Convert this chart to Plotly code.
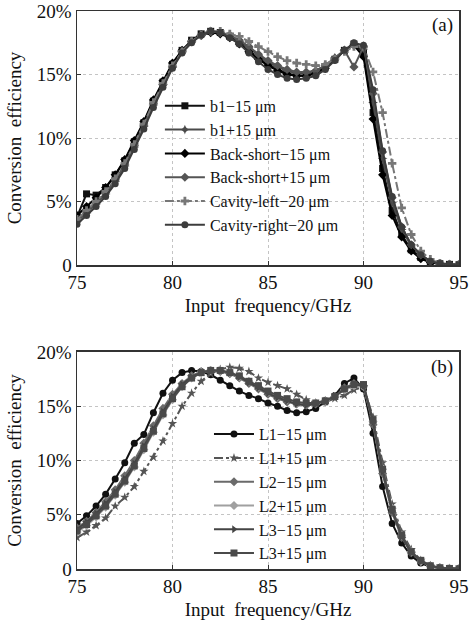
import plotly.graph_objects as go

# frequency grid (GHz)
freq = [75 + 0.5 * i for i in range(41)]

# ---------------- panel (a) ----------------
b1_minus15 = [3.8, 5.6, 5.5, 6.1, 7.1, 8.2, 9.7, 11.2, 12.9, 14.4, 15.8, 16.9, 17.7, 18.2, 18.4, 18.3,
              18.0, 17.5, 16.9, 16.3, 15.8, 15.4, 15.1, 14.9, 14.9, 15.1, 15.6, 16.2, 16.9, 17.4, 16.7,
              12.0, 7.6, 4.3, 2.4, 1.2, 0.6, 0.25, 0.1, 0.05, 0.02]
b1_plus15 = [3.4, 4.1, 4.8, 5.6, 6.6, 7.8, 9.3, 10.9, 12.6, 14.2, 15.6, 16.8, 17.6, 18.1, 18.4, 18.3,
             18.0, 17.6, 17.1, 16.5, 16.0, 15.6, 15.3, 15.1, 15.1, 15.3, 15.7, 16.3, 16.9, 17.4, 17.0,
             12.8, 8.4, 4.9, 2.8, 1.5, 0.7, 0.3, 0.1, 0.05, 0.02]
bs_minus15 = [3.9, 4.6, 5.3, 6.1, 7.1, 8.3, 9.8, 11.3, 13.0, 14.5, 15.9, 16.9, 17.6, 18.1, 18.3, 18.2,
              17.9, 17.4, 16.8, 16.2, 15.7, 15.3, 15.0, 14.9, 14.9, 15.1, 15.5, 16.2, 16.9, 17.3, 16.4,
              11.5, 7.1, 3.9, 2.2, 1.1, 0.5, 0.2, 0.08, 0.03, 0.01]
bs_plus15 = [3.5, 4.2, 4.9, 5.7, 6.7, 7.9, 9.4, 11.0, 12.7, 14.2, 15.6, 16.8, 17.6, 18.1, 18.4, 18.3,
             18.1, 17.7, 17.2, 16.6, 16.1, 15.7, 15.4, 15.2, 15.2, 15.3, 15.7, 16.3, 16.9, 15.6, 17.2,
             13.5, 8.9, 5.3, 3.0, 1.6, 0.8, 0.3, 0.12, 0.05, 0.02]
cav_left20 = [3.6, 4.3, 5.0, 5.8, 6.8, 8.0, 9.5, 11.1, 12.8, 14.3, 15.7, 16.8, 17.6, 18.1, 18.4, 18.4,
              18.2, 18.0, 17.6, 17.2, 16.8, 16.4, 16.1, 15.9, 15.8, 15.7, 15.8, 16.2, 16.8, 17.2, 17.2,
              15.2, 12.0, 8.0, 4.5, 2.4, 1.1, 0.45, 0.15, 0.05, 0.02]
cav_right20 = [3.2, 3.9, 4.6, 5.4, 6.4, 7.6, 9.1, 10.7, 12.4, 14.0, 15.5, 16.7, 17.5, 18.1, 18.4, 18.3,
               17.9, 17.4, 16.7, 16.0, 15.4, 15.0, 14.7, 14.6, 14.7, 14.9, 15.4, 16.1, 16.9, 17.5, 17.3,
               13.8, 9.0, 5.4, 3.0, 1.6, 0.8, 0.3, 0.12, 0.05, 0.02]

# ---------------- panel (b) ----------------
L1_minus15 = [4.2, 4.9, 5.8, 6.9, 8.3, 9.8, 11.6, 12.4, 14.4, 16.2, 17.4, 18.1, 18.3, 18.2, 17.9, 17.4,
              16.9, 16.4, 16.0, 15.7, 15.3, 15.0, 14.6, 14.4, 14.5, 14.8, 15.4, 16.0, 17.1, 17.6, 16.6,
              12.5, 7.6, 4.2, 2.4, 1.2, 0.55, 0.2, 0.08, 0.03, 0.01]
L1_plus15 = [2.9, 3.4, 4.0, 4.7, 5.8, 6.6, 7.6, 9.0, 10.3, 11.8, 13.4, 15.0, 16.2, 17.3, 18.0, 18.4,
             18.6, 18.5, 18.2, 17.6, 17.2, 16.9, 16.6, 16.1, 15.6, 15.3, 15.4, 15.7, 16.0, 16.5, 16.8,
             14.0, 9.8, 6.0, 3.4, 1.8, 0.8, 0.3, 0.1, 0.05, 0.02]
L2_minus15 = [3.8, 4.4, 5.2, 6.2, 7.3, 8.6, 10.0, 11.6, 13.2, 14.8, 16.1, 17.1, 17.8, 18.2, 18.3, 18.2,
              18.0, 17.6, 17.1, 16.6, 16.1, 15.7, 15.4, 15.2, 15.1, 15.2, 15.5, 15.9, 16.7, 17.1, 16.9,
              13.3, 8.8, 5.2, 2.9, 1.5, 0.7, 0.3, 0.1, 0.05, 0.02]
L2_plus15 = [3.4, 4.0, 4.8, 5.7, 6.8, 8.0, 9.4, 11.0, 12.6, 14.2, 15.6, 16.8, 17.6, 18.1, 18.3, 18.3,
             18.1, 17.7, 17.3, 16.8, 16.3, 15.9, 15.6, 15.3, 15.2, 15.3, 15.5, 15.9, 16.5, 16.9, 16.8,
             13.6, 9.2, 5.6, 3.1, 1.6, 0.7, 0.3, 0.1, 0.05, 0.02]
L3_minus15 = [3.7, 4.3, 5.1, 6.0, 7.1, 8.3, 9.7, 11.3, 12.9, 14.5, 15.9, 17.0, 17.7, 18.1, 18.3, 18.3,
              18.1, 17.7, 17.2, 16.7, 16.2, 15.8, 15.5, 15.2, 15.1, 15.2, 15.5, 15.9, 16.6, 17.0, 16.9,
              13.5, 9.0, 5.4, 3.0, 1.5, 0.7, 0.3, 0.1, 0.05, 0.02]
L3_plus15 = [3.5, 4.1, 4.9, 5.8, 6.9, 8.1, 9.5, 11.1, 12.7, 14.3, 15.7, 16.8, 17.6, 18.1, 18.3, 18.3,
             18.1, 17.8, 17.3, 16.9, 16.4, 16.0, 15.7, 15.4, 15.3, 15.3, 15.5, 15.9, 16.6, 17.0, 17.0,
             13.7, 9.2, 5.5, 3.1, 1.6, 0.8, 0.3, 0.12, 0.05, 0.02]

names_a = ["b1\u221215 \u03bcm", "b1+15 \u03bcm", "Back-short\u221215 \u03bcm",
           "Back-short+15 \u03bcm", "Cavity-left\u221220 \u03bcm", "Cavity-right\u221220 \u03bcm"]
names_b = ["L1\u221215 \u03bcm", "L1+15 \u03bcm", "L2\u221215 \u03bcm",
           "L2+15 \u03bcm", "L3\u221215 \u03bcm", "L3+15 \u03bcm"]
series_a = [b1_minus15, b1_plus15, bs_minus15, bs_plus15, cav_left20, cav_right20]
series_b = [L1_minus15, L1_plus15, L2_minus15, L2_plus15, L3_minus15, L3_plus15]

y_tickvals = [0, 5, 10, 15, 20]
y_ticktext = ["0", "5%", "10%", "15%", "20%"]
x_tickvals = [75, 80, 85, 90, 95]

style_a = [
    dict(color="#111111", symbol="square", dash="solid"),
    dict(color="#4a4a4a", symbol="star-diamond", dash="solid"),
    dict(color="#000000", symbol="diamond", dash="solid"),
    dict(color="#555555", symbol="diamond", dash="solid"),
    dict(color="#777777", symbol="cross", dash="dashdot"),
    dict(color="#3c3c3c", symbol="circle", dash="solid"),
]
style_b = [
    dict(color="#111111", symbol="circle", dash="solid"),
    dict(color="#555555", symbol="star", dash="dashdot"),
    dict(color="#6a6a6a", symbol="diamond", dash="solid"),
    dict(color="#a0a0a0", symbol="diamond", dash="solid"),
    dict(color="#444444", symbol="triangle-right", dash="solid"),
    dict(color="#4a4a4a", symbol="square", dash="solid"),
]

FONT = "Liberation Serif, Times New Roman, DejaVu Serif, serif"
fig = go.Figure()
for nm, ys, st in zip(names_a, series_a, style_a):
    fig.add_trace(go.Scatter(
        x=freq, y=ys, name=nm, mode="lines+markers", xaxis="x", yaxis="y", legend="legend",
        line=dict(color=st["color"], width=2, dash=st["dash"]),
        marker=dict(symbol=st["symbol"], size=7, color=st["color"])))
for nm, ys, st in zip(names_b, series_b, style_b):
    fig.add_trace(go.Scatter(
        x=freq, y=ys, name=nm, mode="lines+markers", xaxis="x2", yaxis="y2", legend="legend2",
        line=dict(color=st["color"], width=2, dash=st["dash"]),
        marker=dict(symbol=st["symbol"], size=7, color=st["color"])))

axis_common = dict(showline=True, mirror=True, linecolor="#333333", linewidth=1.5,
                   ticks="inside", ticklen=4, tickcolor="#333333", automargin=False,
                   ticklabeloverflow="allow",
                   showgrid=True, gridcolor="#c4c4c4", griddash="dot", gridwidth=1,
                   zeroline=False, tickfont=dict(family=FONT, size=19, color="#111"))
xt = dict(text="Input  frequency/GHz", font=dict(family=FONT, size=19, color="#111"), standoff=6)
yt = dict(text="Conversion  efficiency", font=dict(family=FONT, size=19, color="#111"), standoff=10)

legend_font = dict(family=FONT, size=16, color="#111")
fig.update_layout(
    template="none",
    width=473, height=620,
    margin=dict(l=77, r=14, t=11, b=51, autoexpand=False),
    paper_bgcolor="white", plot_bgcolor="white",
    xaxis=dict(**axis_common, domain=[0, 1], anchor="y", range=[75, 95], tickvals=x_tickvals, title=xt),
    yaxis=dict(**axis_common, domain=[0.5448, 1], anchor="x", range=[0, 20],
               tickvals=y_tickvals, ticktext=y_ticktext, title=yt),
    xaxis2=dict(**axis_common, domain=[0, 1], anchor="y2", range=[75, 95], tickvals=x_tickvals, title=xt),
    yaxis2=dict(**axis_common, domain=[0, 0.3889], anchor="x2", range=[0, 20],
                tickvals=y_tickvals, ticktext=y_ticktext, title=yt),
    legend=dict(x=0.217, y=0.8604, xanchor="left", yanchor="top", bgcolor="rgba(0,0,0,0)",
                font=legend_font, tracegroupgap=0, itemwidth=40),
    legend2=dict(x=0.3455, y=0.272, xanchor="left", yanchor="top", bgcolor="rgba(0,0,0,0)",
                 font=legend_font, tracegroupgap=0, itemwidth=40),
    annotations=[
        dict(text="(a)", x=0.99, y=0.9987, xref="paper", yref="paper", xanchor="right", yanchor="top",
             showarrow=False, font=dict(family=FONT, size=19, color="#111")),
        dict(text="(b)", x=0.99, y=0.386, xref="paper", yref="paper", xanchor="right", yanchor="top",
             showarrow=False, font=dict(family=FONT, size=19, color="#111")),
    ],
)
# remove the default page margin so the 473x620 figure fills the window exactly
fig.write_html("out.html",
               config={"displayModeBar": False, "staticPlot": True},
               post_script="document.body.style.margin='0px';document.body.style.overflow='hidden';")
